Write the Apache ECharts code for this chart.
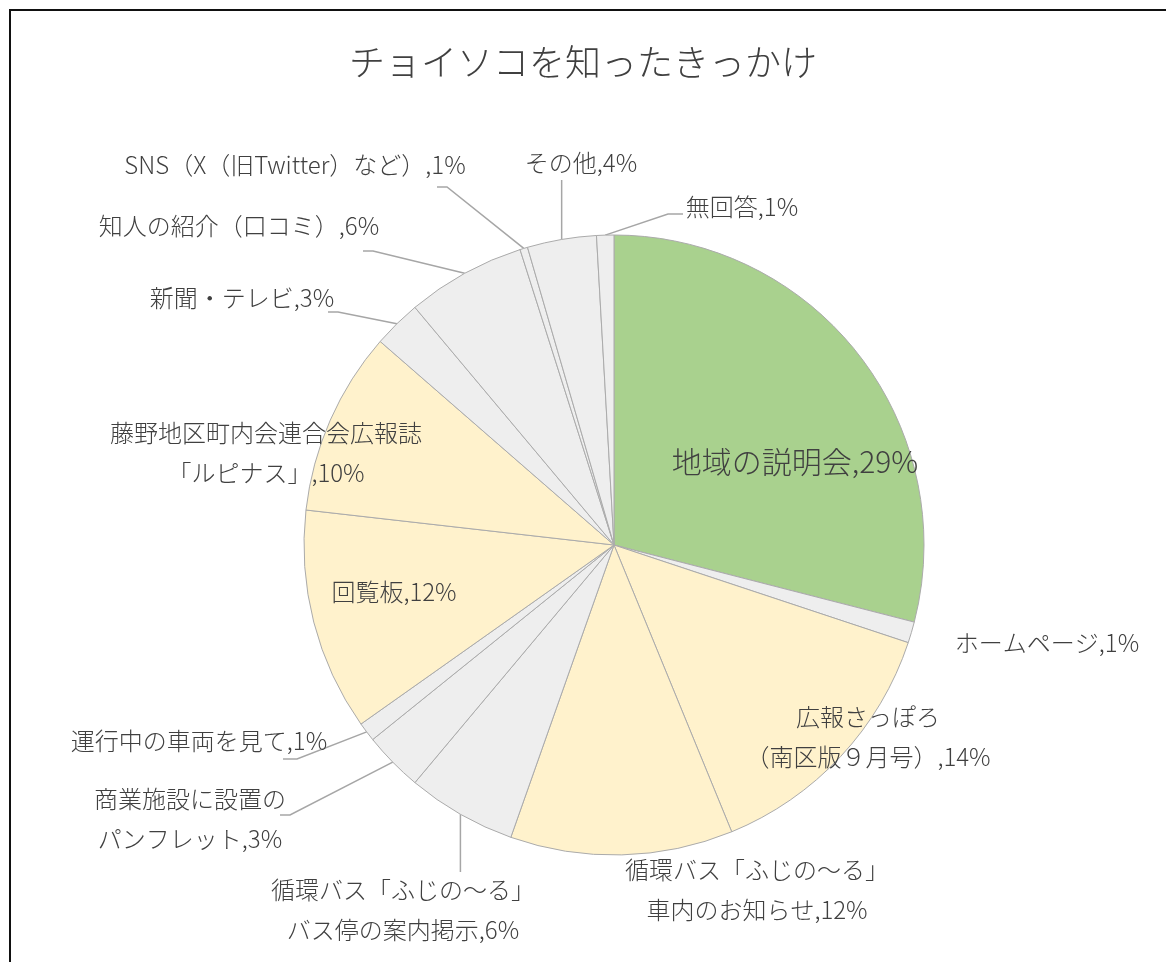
<!DOCTYPE html>
<html><head><meta charset="utf-8">
<script src="https://cdn.jsdelivr.net/npm/echarts@6/dist/echarts.min.js"></script>
<style>html,body{margin:0;padding:0;background:#fff}#c{width:1166px;height:962px}</style>
</head><body><div id="c"></div>
<script>
// ---- data ----
const titleText = 'チョイソコを知ったきっかけ';
const categories = [
  '地域の説明会',
  'ホームページ',
  '広報さっぽろ\n（南区版９月号）',
  '循環バス「ふじの～る」\n車内のお知らせ',
  '循環バス「ふじの～る」\nバス停の案内掲示',
  '商業施設に設置の\nパンフレット',
  '運行中の車両を見て',
  '回覧板',
  '藤野地区町内会連合会広報誌\n「ルピナス」',
  '新聞・テレビ',
  '知人の紹介（口コミ）',
  'SNS（X（旧Twitter）など）',
  'その他',
  '無回答'
];
// slice shares
const shares = [29.0, 1.1, 13.7, 11.6, 5.7, 3.1, 1.0, 11.6, 9.6, 2.5, 6.2, 0.4, 3.6, 0.9];
// percentages printed on the labels
const shownPct = [29, 1, 14, 12, 6, 3, 1, 12, 10, 3, 6, 1, 4, 1];

// ---- styles ----
const FONT = '"Noto Sans CJK JP", "Noto Sans", sans-serif';
const GREEN = '#A9D18E', YELLOW = '#FFF2CC', GRAY = '#EEEEEE';
const sliceFill = [GREEN, GRAY, YELLOW, YELLOW, GRAY, GRAY, GRAY, YELLOW, YELLOW, GRAY, GRAY, GRAY, GRAY, GRAY];
const labelSpot = [[795,462],[1047,643],[868,737],[757,890],[403,910],[190,819],[199,741],
                   [394,592],[266,453],[242,298],[239,226],[295,165],[581,163],[742,207]];
const leader = [null, null, null, null, {v:-38}, {d:[90,-4],h:10}, {d:[84,18],h:14},
                null, null, {d:[86,14],h:10}, {d:[124,25],h:10}, {d:[142,22],h:10}, {v:17}, {d:[-59,7],h:-15}];

const chart = echarts.init(document.getElementById('c'), null, {renderer: 'canvas'});
const data = categories.map((name, i) => ({
  name: name,
  value: shares[i],
  itemStyle: {color: sliceFill[i]},
  labelLine: {show: !!leader[i]},
  label: i === 0 ? {fontSize: 30} : {}
}));

chart.setOption({
  animation: false,
  backgroundColor: '#fff',
  title: {
    text: titleText, left: 'center', top: 44, padding: 0,
    textStyle: {fontFamily: FONT, fontSize: 36, fontWeight: 300, color: '#404040'}
  },
  graphic: [{
    type: 'polyline', silent: true,
    shape: {points: [[10, 962], [10, 10], [1166, 10]]},
    style: {stroke: '#111', lineWidth: 2, fill: null}
  }],
  series: [{
    type: 'pie',
    center: [614, 545],
    radius: 310,
    startAngle: 90,
    clockwise: true,
    avoidLabelOverlap: false,
    itemStyle: {borderColor: '#ABABAB', borderWidth: 1},
    label: {
      show: true, position: 'outside',
      fontFamily: FONT, fontSize: 24, fontWeight: 300, color: '#404040', lineHeight: 40,
      formatter: p => p.name + ',' + shownPct[p.dataIndex] + '%'
    },
    labelLine: {show: true, length: 10, length2: 10, lineStyle: {color: '#A6A6A6', width: 1.5}},
    labelLayout: function (p) {
      const i = p.dataIndex;
      const s = labelSpot[i];
      const out = {x: s[0], y: s[1], align: 'center', verticalAlign: 'middle'};
      const L = leader[i];
      if (L && p.labelLinePoints) {
        const st = p.labelLinePoints[0];
        let end, bend;
        if (L.v !== undefined) {
          end = [st[0], s[1] + L.v];
          bend = [st[0], (st[1] + end[1]) / 2];
        } else {
          end = [s[0] + L.d[0], s[1] + L.d[1]];
          bend = [end[0] + L.h, end[1]];
        }
        out.labelLinePoints = [st, bend, end];
      }
      return out;
    },
    emphasis: {disabled: true},
    data: data
  }]
});
</script>
</body></html>
